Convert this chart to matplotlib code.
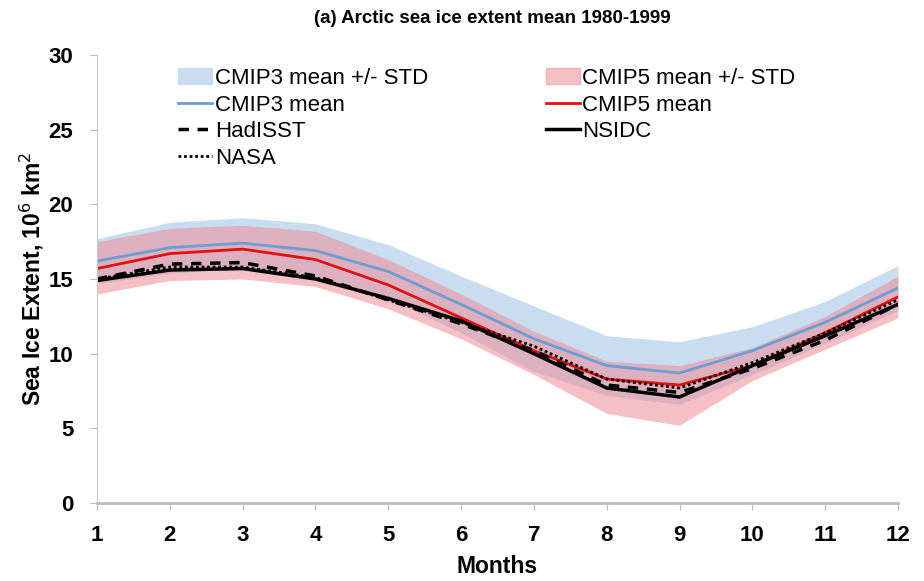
import matplotlib.pyplot as plt
import numpy as np
from matplotlib.patches import Patch
from matplotlib.lines import Line2D

plt.rcParams["font.family"] = ["Liberation Sans", "DejaVu Sans"]

months = np.arange(1, 13)

# model ensembles (10^6 km^2)
cmip3_mean = [16.2, 17.1, 17.4, 16.9, 15.5, 13.3, 11.0, 9.2, 8.7, 10.2, 12.1, 14.4]
cmip3_upper = [17.7, 18.8, 19.1, 18.7, 17.3, 15.2, 13.2, 11.2, 10.8, 11.8, 13.5, 15.9]
cmip3_lower = [14.7, 15.4, 15.7, 15.1, 13.7, 11.4, 8.8, 7.2, 6.6, 8.6, 10.7, 12.9]

cmip5_mean = [15.7, 16.7, 17.0, 16.3, 14.6, 12.4, 10.2, 8.3, 7.9, 9.2, 11.4, 13.8]
cmip5_upper = [17.5, 18.4, 18.6, 18.2, 16.3, 14.0, 11.5, 9.5, 9.2, 10.4, 12.5, 15.2]
cmip5_lower = [14.0, 14.9, 15.0, 14.5, 13.0, 11.0, 8.6, 6.0, 5.2, 8.2, 10.3, 12.4]

# observations
hadisst = [15.0, 16.0, 16.1, 15.2, 13.6, 12.0, 10.2, 7.9, 7.4, 9.0, 10.9, 13.3]
nsidc = [14.9, 15.6, 15.7, 15.0, 13.7, 12.2, 10.0, 7.7, 7.1, 9.2, 11.2, 13.3]
nasa = [15.0, 15.8, 15.8, 15.1, 13.6, 12.1, 10.5, 8.3, 7.7, 9.4, 11.4, 13.6]

blue_band = "#c8ddf0"
pink_band = "#ee8c98"

fig = plt.figure(figsize=(9.24, 5.81), dpi=100)
ax = fig.add_axes([97 / 924, 1 - 503 / 581, (898 - 97) / 924, (503 - 55) / 581])

ax.fill_between(months, cmip3_lower, cmip3_upper, color=blue_band, lw=0)
ax.fill_between(months, cmip5_lower, cmip5_upper, color=pink_band, alpha=0.55, lw=0)
ax.plot(months, cmip3_mean, color="#6d9bd2", lw=2)
ax.plot(months, cmip5_mean, color="#e01010", lw=2)
ax.plot(months, nasa, color="black", lw=2, ls=(0, (1, 1)))
ax.plot(months, hadisst, color="black", lw=2.5, ls=(0, (3, 2.5)))
ax.plot(months, nsidc, color="black", lw=2.5)

ax.set_xlim(1, 12)
ax.set_ylim(0, 30)
ax.set_xticks(months)
ax.set_yticks(np.arange(0, 31, 5))
for side in ["top", "right"]:
    ax.spines[side].set_visible(False)
ax.spines["left"].set_color("#c8c8c8")
ax.spines["bottom"].set_color("#bcbcbc")
ax.spines["bottom"].set_linewidth(2)
ax.tick_params(axis="both", colors="#bcbcbc", length=5, labelcolor="black",
               labelsize=16)
ax.tick_params(axis="x", pad=11)
ax.tick_params(axis="y", pad=12)
for lab in ax.get_xticklabels() + ax.get_yticklabels():
    lab.set_fontweight("bold")

ax.set_xlabel("Months", fontsize=16.5, fontweight="bold", labelpad=6)
ax.set_ylabel("Sea Ice Extent, 10$^6$ km$^2$", fontsize=16.5, fontweight="bold",
              labelpad=2)
fig.suptitle("(a) Arctic sea ice extent mean 1980-1999", x=0.533, y=0.982,
             fontsize=13.5, fontweight="bold")

handles = [
    Patch(color=blue_band, label="CMIP3 mean +/- STD"),
    Line2D([], [], color="#6d9bd2", lw=2, label="CMIP3 mean"),
    Line2D([], [], color="black", lw=2.5, ls=(0, (3, 2.5)), label="HadISST"),
    Line2D([], [], color="black", lw=2, ls=(0, (1, 1)), label="NASA"),
    Patch(color=pink_band, alpha=0.55, label="CMIP5 mean +/- STD"),
    Line2D([], [], color="#e01010", lw=2, label="CMIP5 mean"),
    Line2D([], [], color="black", lw=2.5, label="NSIDC"),
]
ax.legend(handles=handles, ncol=2, frameon=False, loc="upper left",
          bbox_to_anchor=(178 / 924, 1 - 68 / 581),
          bbox_transform=fig.transFigure, borderpad=0, borderaxespad=0,
          fontsize=16, handlelength=1.55, handletextpad=0.1,
          columnspacing=5.3, labelspacing=0.25)

fig.savefig("out.png", dpi=100)
